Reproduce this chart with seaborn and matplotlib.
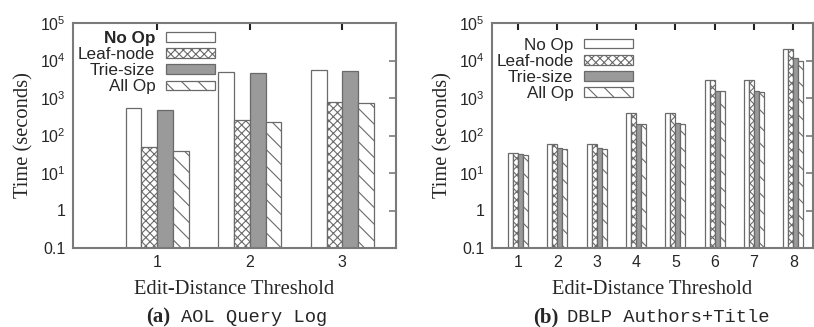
import numpy as np
import pandas as pd
import matplotlib
matplotlib.use('Agg')
import matplotlib.pyplot as plt
import seaborn as sns
from matplotlib.ticker import FixedLocator, FixedFormatter, NullLocator

# Data
methods = ['No Op', 'Leaf-node', 'Trie-size', 'All Op']

aol_thresholds = ['1', '2', '3']
aol_noop = [530, 5000, 5600]
aol_leaf = [50, 260, 770]
aol_trie = [480, 4600, 5200]
aol_allop = [39, 230, 720]

dblp_thresholds = ['1', '2', '3', '4', '5', '6', '7', '8']
dblp_noop = [35, 60, 60, 400, 400, 3100, 3000, 20400]
dblp_leaf = [35, 60, 60, 400, 400, 3100, 3000, 20000]
dblp_trie = [32, 46, 46, 205, 210, 1560, 1500, 11400]
dblp_allop = [30, 44, 45, 205, 205, 1500, 1450, 10000]

ytick_vals = [0.1, 1, 10, 100, 1000, 10000, 100000]
ytick_labels = ['0.1', '1', '10$^1$', '10$^2$', '10$^3$', '10$^4$', '10$^5$']

sns.set_style('white')
plt.rcParams['mathtext.default'] = 'regular'
plt.rcParams['font.family'] = ['Liberation Sans', 'DejaVu Sans']
plt.rcParams['hatch.linewidth'] = 0.8

fills = ['white', 'white', '#9a9a9a', 'white']
hatches = ['', 'xxxx', '', '\\\\']
edge = '#6a6a6a'
spine_col = '#7a7a7a'


def make_frame(thresholds, series):
    rows = []
    for m, vals in zip(methods, series):
        for t, v in zip(thresholds, vals):
            rows.append({'threshold': t, 'method': m, 'time': v})
    return pd.DataFrame(rows)


def draw_panel(ax, df, order, width, xlim, legend_anchor, bold_first):
    sns.barplot(data=df, x='threshold', y='time', hue='method', order=order,
                hue_order=methods, palette=fills, width=width, gap=0,
                edgecolor=edge, linewidth=0.9, saturation=1, ax=ax, legend=False)
    for cont, h in zip(ax.containers, hatches):
        for p in cont:
            p.set_hatch(h)
            p.set_edgecolor(edge)
    ax.set_yscale('log')
    ax.set_ylim(0.1, 1e5)
    ax.set_xlim(*xlim)
    ax.yaxis.set_major_locator(FixedLocator(ytick_vals))
    ax.yaxis.set_major_formatter(FixedFormatter(ytick_labels))
    ax.yaxis.set_minor_locator(NullLocator())
    ax.tick_params(axis='both', direction='in', length=5, width=1.5, color='#222222',
                   labelsize=11.5, top=True, right=True, pad=5)
    ax.tick_params(axis='y', color=spine_col, width=1.2)
    for s in ax.spines.values():
        s.set_color(spine_col)
        s.set_linewidth(1.5)
    ax.set_xlabel('Edit-Distance Threshold', family=['Liberation Serif'], fontsize=14.8, labelpad=7)
    ax.set_ylabel('Time (seconds)', family=['Liberation Serif'], fontsize=14.8, labelpad=5)
    handles = [cont[0] for cont in ax.containers]
    leg = ax.legend(handles, methods, loc='upper right', bbox_to_anchor=legend_anchor,
                    frameon=False, markerfirst=False, fontsize=12.3, handlelength=2.9,
                    handleheight=0.5, handletextpad=0.6, labelspacing=0.07,
                    borderpad=0, borderaxespad=0)
    if bold_first:
        leg.get_texts()[0].set_fontweight('bold')


fig = plt.figure(figsize=(8.14, 3.27), dpi=100)
W, H = 814, 327
ax1 = fig.add_axes([73 / W, 79 / H, 323 / W, 225 / H])
ax2 = fig.add_axes([492 / W, 79 / H, 321 / W, 225 / H])

df_aol = make_frame(aol_thresholds, [aol_noop, aol_leaf, aol_trie, aol_allop])
df_dblp = make_frame(dblp_thresholds, [dblp_noop, dblp_leaf, dblp_trie, dblp_allop])

draw_panel(ax1, df_aol, aol_thresholds, 0.68, (-0.91, 2.58), (0.44, 0.965), True)
draw_panel(ax2, df_dblp, dblp_thresholds, 0.51, (-0.66, 7.5), (0.44, 0.935), False)

# captions
fig.text(170 / W, 10 / H, '(a)', family=['Liberation Serif'], fontweight='bold',
         fontsize=15, ha='right', va='center')
fig.text(181 / W, 10 / H, 'AOL Query Log', family=['Liberation Mono'],
         fontsize=13.5, ha='left', va='center')
fig.text(559 / W, 10 / H, '(b)', family=['Liberation Serif'], fontweight='bold',
         fontsize=15, ha='right', va='center')
fig.text(567 / W, 10 / H, 'DBLP Authors+Title', family=['Liberation Mono'],
         fontsize=13.5, ha='left', va='center')

fig.savefig('out.png', dpi=100)
